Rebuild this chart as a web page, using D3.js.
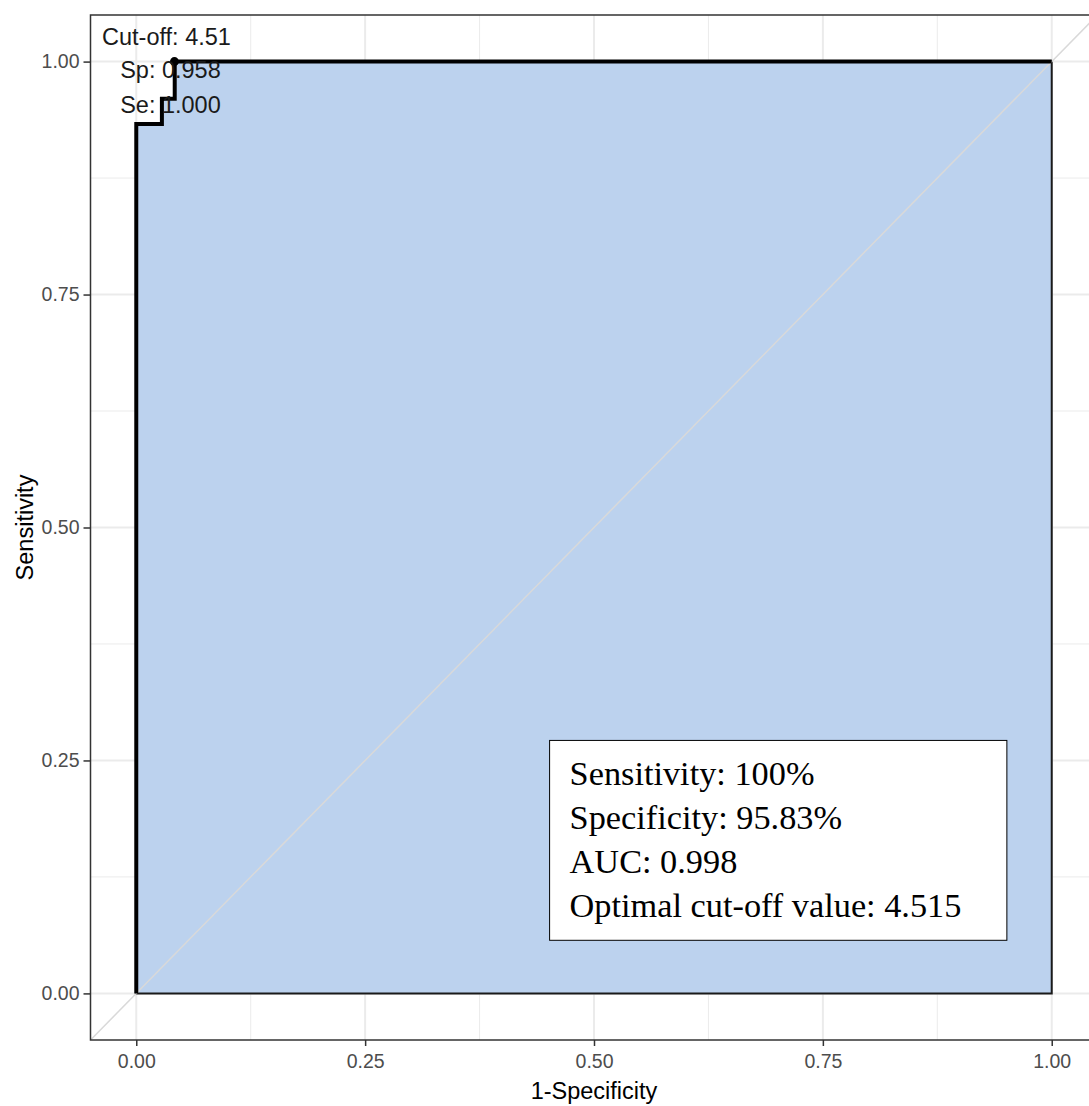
<!DOCTYPE html>
<html>
   <head>
      <script type="text/javascript" src="https://d3js.org/d3.v7.min.js"></script>
      <style>
         body { margin: 0; background: white; }
         svg { display: block; }
      </style>
   </head>
   <body>
      <svg id="roc" width="1089" height="1106"></svg>
      <script>
         // ROC curve points
         var fpr = [0, 0, 0.028, 0.028, 0.042, 0.042, 1];
         var tpr = [0, 0.933, 0.933, 0.96, 0.96, 1, 1];
         var cutPoint = [0.0417, 1];
         var cutLabels = ["Cut-off: 4.51", "Sp: 0.958", "Se: 1.000"];
         var boxLines = ["Sensitivity: 100%", "Specificity: 95.83%", "AUC: 0.998", "Optimal cut-off value: 4.515"];
         var boxCorners = [[0.4515, 0.2715], [0.951, 0.057]];
         var majorTicks = [0, 0.25, 0.5, 0.75, 1];
         var minorTicks = [0.125, 0.375, 0.625, 0.875];
         var tickLabels = ["0.00", "0.25", "0.50", "0.75", "1.00"];

         var svg = d3.select("#roc");
         var x = d3.scaleLinear().domain([-0.05, 1.05]).range([90.5, 1097.5]);
         var y = d3.scaleLinear().domain([-0.05, 1.05]).range([1040, 15]);

         svg.append("defs").append("clipPath").attr("id", "panel")
            .append("rect")
            .attr("x", x(-0.05)).attr("y", y(1.05))
            .attr("width", x(1.05) - x(-0.05)).attr("height", y(-0.05) - y(1.05));

         var g = svg.append("g").attr("clip-path", "url(#panel)");

         // grid
         minorTicks.forEach(function (t) {
            g.append("line").attr("x1", x(t)).attr("x2", x(t)).attr("y1", y(-0.05)).attr("y2", y(1.05))
               .attr("stroke", "#ebebeb").attr("stroke-width", 1);
            g.append("line").attr("y1", y(t)).attr("y2", y(t)).attr("x1", x(-0.05)).attr("x2", x(1.05))
               .attr("stroke", "#ebebeb").attr("stroke-width", 1);
         });
         majorTicks.forEach(function (t) {
            g.append("line").attr("x1", x(t)).attr("x2", x(t)).attr("y1", y(-0.05)).attr("y2", y(1.05))
               .attr("stroke", "#ebebeb").attr("stroke-width", 2);
            g.append("line").attr("y1", y(t)).attr("y2", y(t)).attr("x1", x(-0.05)).attr("x2", x(1.05))
               .attr("stroke", "#ebebeb").attr("stroke-width", 2);
         });

         var pts = fpr.map(function (d, i) { return [d, tpr[i]]; });
         var line = d3.line().x(function (d) { return x(d[0]); }).y(function (d) { return y(d[1]); });

         // area under the curve
         g.append("path")
            .attr("d", line(pts.concat([[1, 0]])) + "Z")
            .attr("fill", "#bcd2ee")
            .attr("stroke", "#1a1a1a")
            .attr("stroke-width", 2);

         // reference diagonal
         g.append("line")
            .attr("x1", x(-0.05)).attr("y1", y(-0.05))
            .attr("x2", x(1.05)).attr("y2", y(1.05))
            .attr("stroke", "#d9d9d9").attr("stroke-width", 1.5);

         // ROC curve
         g.append("path")
            .attr("d", line(pts))
            .attr("fill", "none")
            .attr("stroke", "black")
            .attr("stroke-width", 4);

         g.append("circle")
            .attr("cx", x(cutPoint[0])).attr("cy", y(cutPoint[1])).attr("r", 4.5)
            .attr("fill", "black");

         var offs = [[-8, -17], [-4, 16], [-4, 51]];
         cutLabels.forEach(function (t, i) {
            svg.append("text")
               .text(t)
               .attr("x", x(cutPoint[0]) + offs[i][0])
               .attr("y", y(cutPoint[1]) + offs[i][1])
               .attr("text-anchor", "middle")
               .attr("font-family", "Liberation Sans, Arial, sans-serif")
               .attr("font-size", 23.5)
               .attr("fill", "#1a1a1a");
         });

         // info box
         svg.append("rect")
            .attr("x", x(boxCorners[0][0])).attr("y", y(boxCorners[0][1]))
            .attr("width", x(boxCorners[1][0]) - x(boxCorners[0][0]))
            .attr("height", y(boxCorners[1][1]) - y(boxCorners[0][1]))
            .attr("fill", "white").attr("stroke", "black").attr("stroke-width", 1);
         boxLines.forEach(function (t, i) {
            svg.append("text")
               .text(t)
               .attr("x", x(boxCorners[0][0]) + 20)
               .attr("y", 785 + i * 44)
               .attr("font-family", "Liberation Serif, Times New Roman, serif")
               .attr("font-size", 34.3)
               .attr("fill", "black");
         });

         // panel border
         svg.append("rect")
            .attr("x", x(-0.05)).attr("y", y(1.05))
            .attr("width", x(1.05) - x(-0.05)).attr("height", y(-0.05) - y(1.05))
            .attr("fill", "none").attr("stroke", "#333").attr("stroke-width", 1.5);

         // axes
         var xAxis = d3.axisBottom(x).tickValues(majorTicks).tickSize(6).tickPadding(8)
            .tickFormat(function (d, i) { return tickLabels[i]; });
         var yAxis = d3.axisLeft(y).tickValues(majorTicks).tickSize(7).tickPadding(4)
            .tickFormat(function (d, i) { return tickLabels[i]; });

         var gx = svg.append("g").attr("transform", "translate(0," + y(-0.05) + ")").call(xAxis);
         var gy = svg.append("g").attr("transform", "translate(" + x(-0.05) + ",0)").call(yAxis);
         [gx, gy].forEach(function (a) {
            a.select(".domain").remove();
            a.selectAll(".tick line").attr("stroke", "#333").attr("stroke-width", 1.5);
            a.selectAll(".tick text")
               .attr("fill", "#4d4d4d")
               .attr("font-family", "Liberation Sans, Arial, sans-serif")
               .attr("font-size", 19.5);
         });

         svg.append("text")
            .text("1-Specificity")
            .attr("x", (x(0) + x(1)) / 2).attr("y", 1099)
            .attr("text-anchor", "middle")
            .attr("font-family", "Liberation Sans, Arial, sans-serif")
            .attr("font-size", 23.5)
            .attr("fill", "black");
         svg.append("text")
            .text("Sensitivity")
            .attr("transform", "translate(33," + (y(0) + y(1)) / 2 + ") rotate(-90)")
            .attr("text-anchor", "middle")
            .attr("font-family", "Liberation Sans, Arial, sans-serif")
            .attr("font-size", 23.5)
            .attr("fill", "black");
      </script>
   </body>
</html>
